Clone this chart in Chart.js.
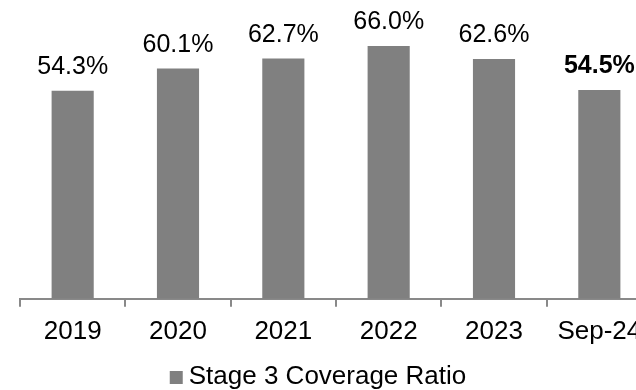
<!DOCTYPE html>
<html>
<head>
<meta charset="utf-8">
<script src="https://cdn.jsdelivr.net/npm/chart.js@4"></script>
<style>
  html, body { margin: 0; padding: 0; background: #fff; overflow: hidden; }
  #wrap { position: relative; width: 660px; height: 390px; }
</style>
</head>
<body>
<div id="wrap"><canvas id="coverageChart"></canvas></div>
<script>
const periods = ["2019", "2020", "2021", "2022", "2023", "Sep-24"];
const coverage = [54.3, 60.1, 62.7, 66.0, 62.6, 54.5];
const seriesName = "Stage 3 Coverage Ratio";

const FONT = "Arial, 'Liberation Sans', sans-serif";
const BAR = "#808080";
const AXIS = "#898989";

// value labels above each bar, last period in bold
const barLabels = {
    id: "barLabels",
    afterDatasetsDraw(chart) {
        const ctx = chart.ctx;
        const meta = chart.getDatasetMeta(0);
        ctx.save();
        ctx.fillStyle = "#000";
        ctx.textAlign = "center";
        ctx.textBaseline = "alphabetic";
        meta.data.forEach((bar, i) => {
            const bold = i === coverage.length - 1 ? "bold " : "";
            ctx.font = bold + "25px " + FONT;
            ctx.fillText(coverage[i].toFixed(1) + "%", bar.x, bar.y - 17);
        });
        ctx.restore();
    },
};

// legend centred in the visible part of the page, small gap after the swatch
const seriesKey = {
    id: "seriesKey",
    afterDraw(chart) {
        const ctx = chart.ctx;
        const visible = Math.min(chart.width, window.innerWidth);
        const box = 13, gap = 6;
        ctx.save();
        ctx.font = "26px " + FONT;
        const textW = ctx.measureText(seriesName).width;
        const x0 = (visible - (box + gap + textW)) / 2;
        const baseline = 384;
        ctx.fillStyle = BAR;
        ctx.fillRect(x0, baseline - 13, box, box);
        ctx.fillStyle = "#000";
        ctx.textBaseline = "alphabetic";
        ctx.fillText(seriesName, x0 + box + gap, baseline);
        ctx.restore();
    },
};

new Chart(document.getElementById("coverageChart"), {
    type: "bar",
    data: {
        labels: periods,
        datasets: [
            {
                label: seriesName,
                data: coverage,
                backgroundColor: BAR,
                categoryPercentage: 1,
                barPercentage: 0.4,
            },
        ],
    },
    options: {
        responsive: true,
        maintainAspectRatio: false,
        animation: false,
        layout: { padding: { left: 20, right: 8, top: 0, bottom: 34 } },
        plugins: {
            legend: { display: false },
            tooltip: { enabled: false },
        },
        scales: {
            x: {
                border: { display: true, color: AXIS, width: 2 },
                grid: {
                    display: true,
                    drawOnChartArea: false,
                    drawTicks: true,
                    tickLength: 8,
                    color: AXIS,
                    lineWidth: 2,
                    offset: true,
                },
                ticks: {
                    color: "#000",
                    font: { family: FONT, size: 26 },
                    padding: 9,
                    maxRotation: 0,
                    autoSkip: false,
                },
            },
            y: {
                display: false,
                min: 0,
                max: 78,
            },
        },
    },
    plugins: [barLabels, seriesKey],
});
</script>
</body>
</html>
